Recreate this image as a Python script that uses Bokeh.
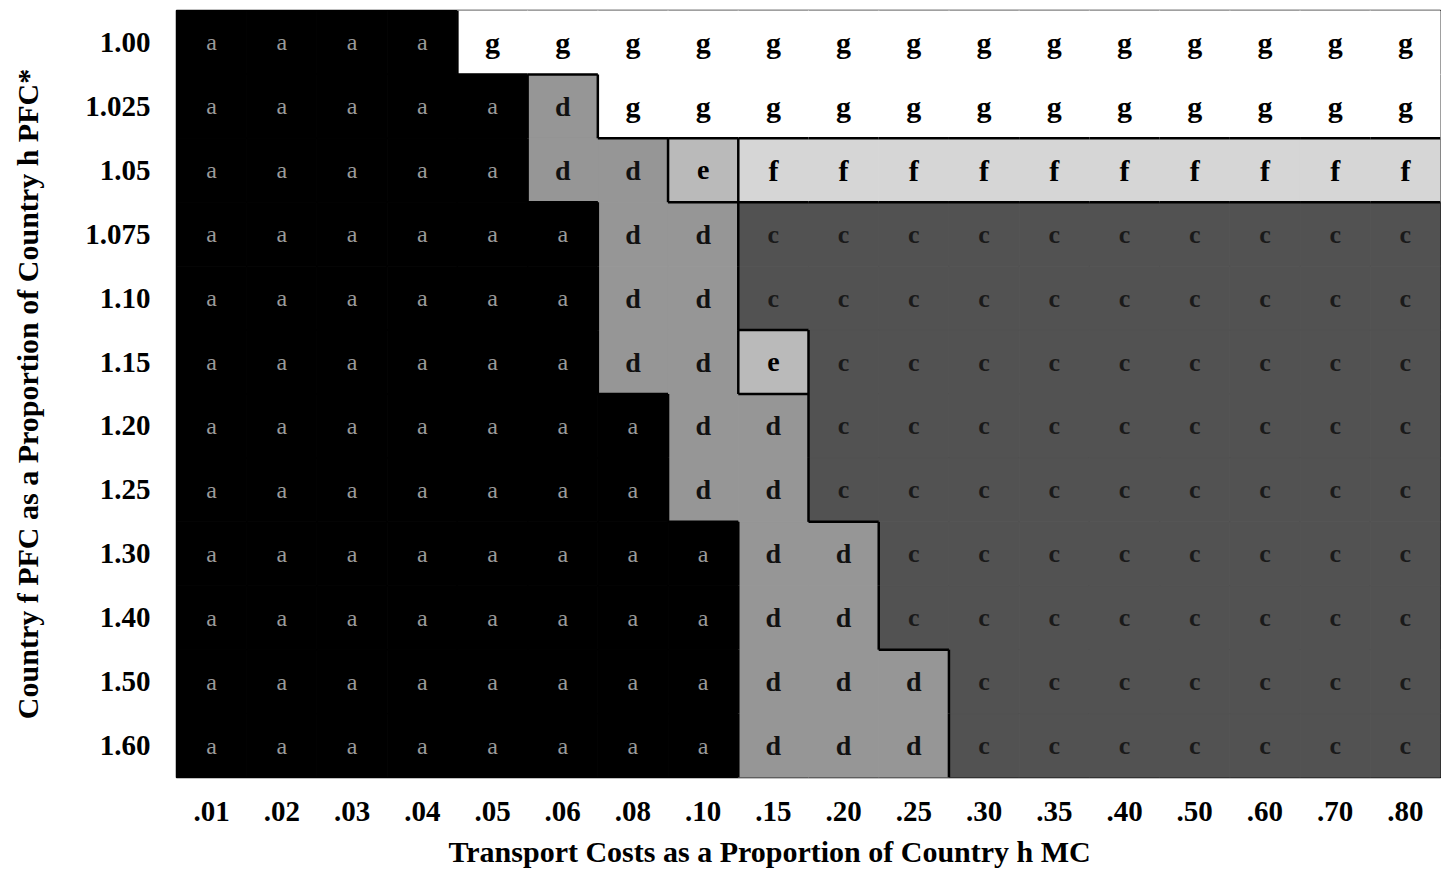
from bokeh.plotting import figure
from bokeh.models import ColumnDataSource, FixedTicker, Range1d, Title
from bokeh.embed import file_html
from bokeh.resources import INLINE

x_labels = [".01", ".02", ".03", ".04", ".05", ".06", ".08", ".10", ".15",
            ".20", ".25", ".30", ".35", ".40", ".50", ".60", ".70", ".80"]
y_labels = ["1.00", "1.025", "1.05", "1.075", "1.10", "1.15",
            "1.20", "1.25", "1.30", "1.40", "1.50", "1.60"]
grid_rows = [
    "aaaagggggggggggggg",
    "aaaaadgggggggggggg",
    "aaaaaddeffffffffff",
    "aaaaaaddcccccccccc",
    "aaaaaaddcccccccccc",
    "aaaaaaddeccccccccc",
    "aaaaaaaddccccccccc",
    "aaaaaaaddccccccccc",
    "aaaaaaaaddcccccccc",
    "aaaaaaaaddcccccccc",
    "aaaaaaaadddccccccc",
    "aaaaaaaadddccccccc",
]
fill_of = {"a": "#000000", "g": "#ffffff", "d": "#969696", "e": "#bababa",
           "f": "#d6d6d6", "c": "#525252"}
text_of = {"a": "#9a9a9a", "g": "#000000", "d": "#111111", "e": "#000000",
           "f": "#000000", "c": "#1a1a1a"}
weight_of = {"a": "normal", "g": "bold", "d": "bold", "e": "bold",
             "f": "bold", "c": "bold"}
size_of = {"a": "24px", "g": "30px", "d": "28px", "e": "28px",
           "f": "30px", "c": "26px"}

FONT = "Liberation Serif"

xs, ys, letters, fills, tcols, weights, sizes = [], [], [], [], [], [], []
for i, row in enumerate(grid_rows):
    for j, ch in enumerate(row):
        xs.append(j)
        ys.append(i)
        letters.append(ch)
        fills.append(fill_of[ch])
        tcols.append(text_of[ch])
        weights.append(weight_of[ch])
        sizes.append(size_of[ch])

src = ColumnDataSource(dict(x=xs, y=ys, t=letters, fill=fills, tc=tcols,
                            fw=weights, fs=sizes))

# region boundaries (where neighbouring letters differ)
sx0, sy0, sx1, sy1 = [], [], [], []
nr, nc = len(grid_rows), len(grid_rows[0])
for i in range(nr):
    for j in range(nc):
        ch = grid_rows[i][j]
        if j + 1 < nc and grid_rows[i][j + 1] != ch:
            sx0.append(j + 0.5); sx1.append(j + 0.5)
            sy0.append(i - 0.5); sy1.append(i + 0.5)
        if i + 1 < nr and grid_rows[i + 1][j] != ch:
            sx0.append(j - 0.5); sx1.append(j + 0.5)
            sy0.append(i + 0.5); sy1.append(i + 0.5)

p = figure(width=1441, height=880, output_backend="svg", toolbar_location=None,
           x_range=Range1d(-0.5, nc - 0.5), y_range=Range1d(nr - 0.5, -0.5),
           min_border_left=176, min_border_right=1, min_border_top=10,
           min_border_bottom=0)

p.rect(x="x", y="y", width=1.0, height=1.0, source=src, fill_color="fill",
       line_color="fill", line_width=1)
p.segment(x0=sx0, y0=sy0, x1=sx1, y1=sy1, line_color="#000000", line_width=2.5)
p.text(x="x", y="y", text="t", source=src, text_color="tc", text_font_style="fw",
       text_align="center", text_baseline="middle", text_font_size="fs",
       text_font={"value": FONT})

p.grid.visible = False
p.outline_line_color = "#000000"
p.outline_line_width = 1.5
p.background_fill_color = "#ffffff"

p.xaxis.ticker = FixedTicker(ticks=list(range(nc)))
p.xaxis.major_label_overrides = {i: s for i, s in enumerate(x_labels)}
p.yaxis.ticker = FixedTicker(ticks=list(range(nr)))
p.yaxis.major_label_overrides = {i: s for i, s in enumerate(y_labels)}

p.yaxis.axis_label = "Country f PFC as a Proportion of Country h PFC*"

for ax in (p.xaxis[0], p.yaxis[0]):
    ax.axis_line_color = None
    ax.major_tick_line_color = None
    ax.minor_tick_line_color = None
    ax.major_label_text_font = FONT
    ax.major_label_text_font_size = "29px"
    ax.major_label_text_font_style = "bold"
    ax.major_label_text_color = "#000000"
    ax.axis_label_text_font = FONT
    ax.axis_label_text_font_size = "30px"
    ax.axis_label_text_font_style = "bold"
    ax.axis_label_text_color = "#000000"

p.xaxis.major_label_standoff = 18
p.yaxis.major_label_standoff = 20
p.yaxis.major_label_orientation = "horizontal"
p.yaxis.axis_label_standoff = 38

xt = Title(text="Transport Costs as a Proportion of Country h MC", align="left",
           offset=272, text_font=FONT, text_font_size="30px",
           text_font_style="bold", text_color="#000000", standoff=22,
           vertical_align="top")
p.add_layout(xt, "below")

open("out.html", "w").write(file_html(p, INLINE))
